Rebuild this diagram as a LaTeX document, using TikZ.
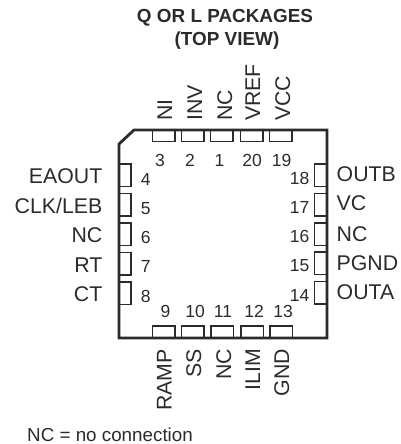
\documentclass[tikz,border=0pt]{standalone}
\usepackage{fontspec}
\setmainfont{Liberation Sans}
\definecolor{ink}{gray}{0.17}
\tikzset{x=1pt,y=-1pt,
 body/.style={line width=2.8pt,draw=ink,line join=miter},
 pad/.style={line width=1.5pt,draw=ink},
 lab/.style={inner sep=0pt,text=ink,font=\fontsize{21.3}{24}\selectfont},
 num/.style={inner sep=0pt,text=ink,font=\fontsize{17.5}{20}\selectfont},
 title/.style={inner sep=0pt,text=ink,font=\fontsize{18.9}{22}\selectfont\bfseries}}
\begin{document}
\begin{tikzpicture}
\useasboundingbox (0,0) rectangle (400,444);
\node[title,anchor=base] (t1) at (225,22.7) {Q OR L PACKAGES};
\node[title,anchor=base] (t2) at (227,45.2) {(TOP VIEW)};
% top pads: pad left, number centre, label baseline, number, label
\foreach \xa/\xn/\xl/\n/\lb in {152.5/160/172/3/NI,181.5/190/202/2/INV,210.5/219.5/232/1/NC,240.5/252/260/20/VREF,269.5/281.5/290/19/VCC}{
  \draw[pad] (\xa,130) rectangle (\xa+22.5,141.5);
  \node[num,anchor=base] at (\xn,166) {\n};
  \node[lab,rotate=90,anchor=base west] at (\xl,121) {\lb};
}
% bottom pads
\foreach \xa/\xn/\xl/\n/\lb in {152.5/165.5/171.5/9/RAMP,181.5/195/201/10/SS,211/223/231/11/NC,241/254/260/12/ILIM,270/283/289/13/GND}{
  \draw[pad] (\xa,338) rectangle (\xa+22.5,326);
  \node[num,anchor=base] at (\xn,317) {\n};
  \node[lab,rotate=90,anchor=base east] at (\xl,349) {\lb};
}
% left pads
\foreach \ya/\yn/\yl/\n/\lb in {164/185/183.3/4/EAOUT,193.5/214.2/213.2/5/{CLK/LEB},223/243.5/242.5/6/NC,252.5/272.8/272/7/RT,282/302/301.5/8/CT}{
  \draw[pad] (119,\ya) rectangle (131,\ya+22.5);
  \node[num,anchor=base] at (145.7,\yn) {\n};
  \node[lab,anchor=base east] at (102.5,\yl) {\lb};
}
% right pads
\foreach \ya/\yn/\yl/\n/\lb in {164/184/181.7/18/OUTB,193.5/213/210.7/17/VC,223/242.5/241/16/NC,252/271.8/270/15/PGND,281.5/301/299/14/OUTA}{
  \draw[pad] (327,\ya) rectangle (314.5,\ya+22.5);
  \node[num,anchor=base east] at (309.5,\yn) {\n};
  \node[lab,anchor=base west] at (336.5,\yl) {\lb};
}
\draw[body] (134,130) -- (327,130) -- (327,338) -- (119,338) -- (119,144) -- cycle;
\node[inner sep=0pt,anchor=base west,text=ink,font=\fontsize{18.8}{22}\selectfont] (nc) at (27,441) {NC = no connection};
\end{tikzpicture}
\end{document}
